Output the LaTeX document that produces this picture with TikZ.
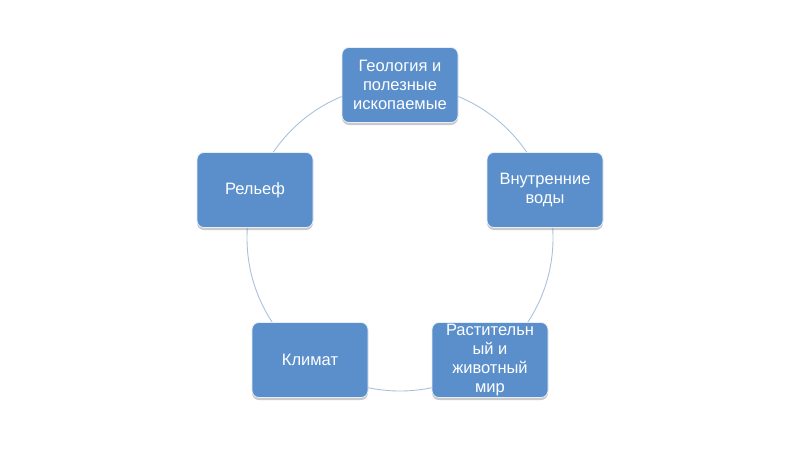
\documentclass[tikz,border=0pt]{standalone}
\usepackage{fontspec}
\setmainfont{Liberation Sans}
\usetikzlibrary{shadows}
\definecolor{boxblue}{HTML}{5A8FCB}
\definecolor{ringblue}{HTML}{A9C1DC}
\tikzset{
  cyclebox/.style={draw=white!85!boxblue, line width=0.8pt, fill=boxblue, rounded corners=7pt,
    minimum width=116pt, minimum height=75pt, text=white, align=center,
    font=\fontsize{16.5pt}{18.7pt}\selectfont, inner sep=1pt,
    drop shadow={shadow xshift=0pt, shadow yshift=-2.5pt, opacity=0.35, fill=black!60}},
  ring/.style={draw=ringblue, line width=0.9pt}
}
\begin{document}
\begin{tikzpicture}[x=1pt,y=-1pt]
\useasboundingbox (0,0) rectangle (800,450);
\coordinate (c) at (400,238);
\draw[ring] (c) circle[radius=153];
\node[cyclebox] (geo) at (400,85) {Геология и\\полезные\\ископаемые};
\node[cyclebox] (water) at (545,190) {Внутренние\\воды};
\node[cyclebox] (flora) at (490,360) {Растительн\\ый и\\животный\\мир};
\node[cyclebox] (clim) at (310,360) {Климат};
\node[cyclebox] (relief) at (255,190) {Рельеф};
\end{tikzpicture}
\end{document}
